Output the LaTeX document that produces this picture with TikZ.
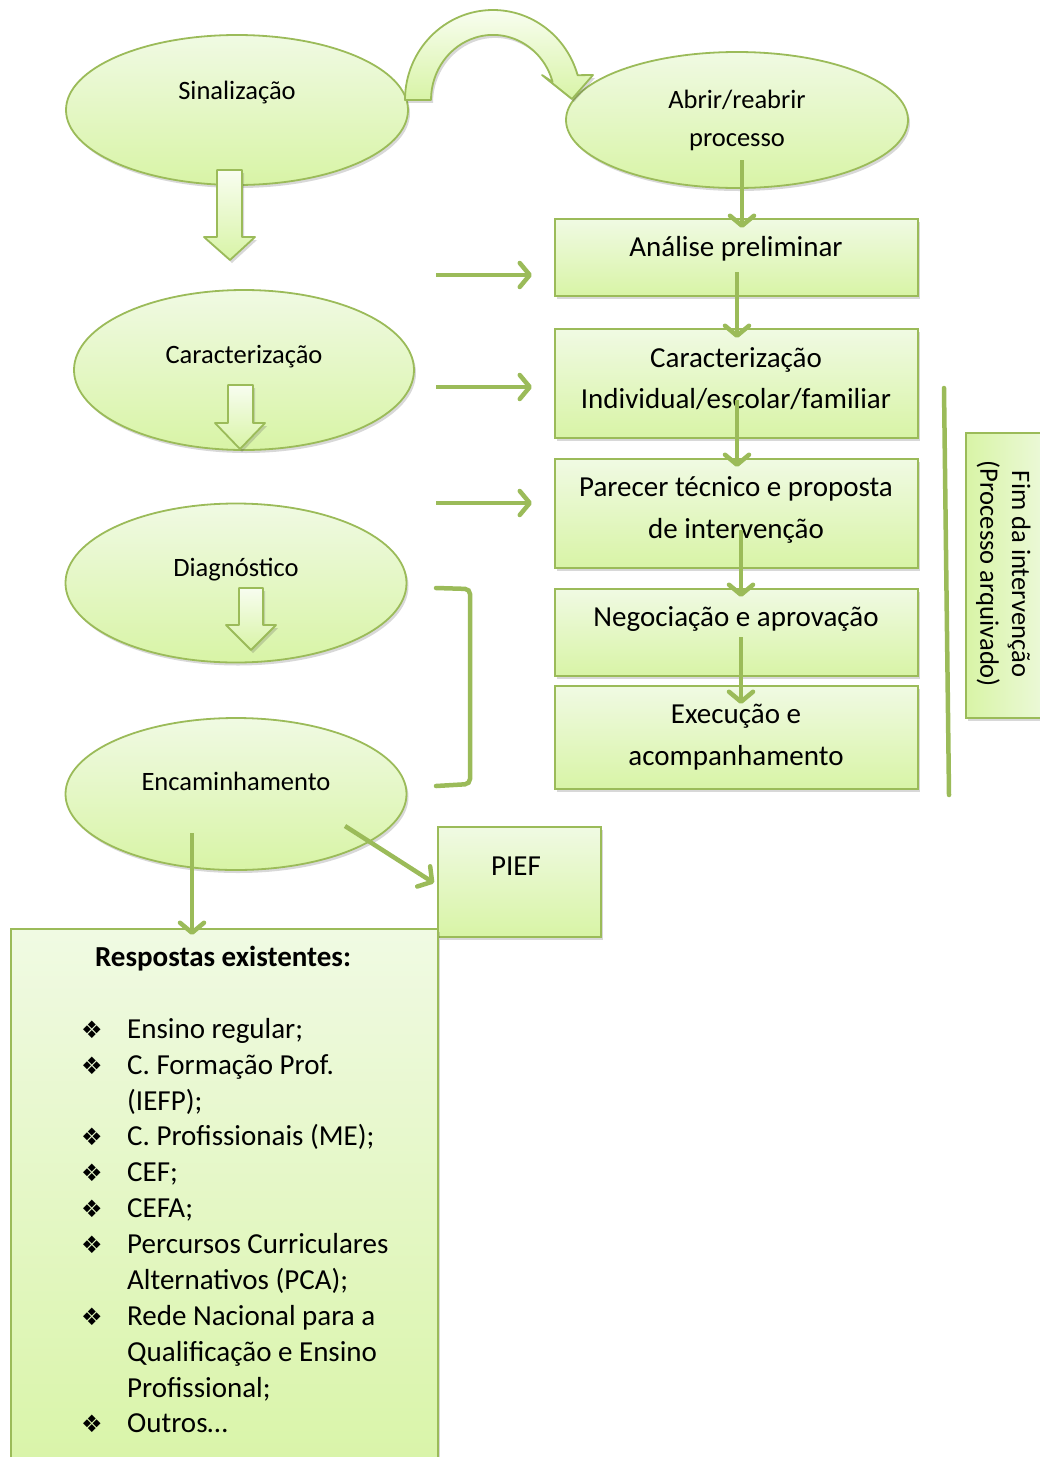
\documentclass[tikz,border=0pt]{standalone}
\usepackage{fontspec}
\setmainfont{Carlito}
\newfontfamily\symfont{DejaVu Sans}
\usetikzlibrary{shapes.geometric,arrows.meta,shadows}
\definecolor{gborder}{HTML}{9BBB59}
\definecolor{gtop}{HTML}{F0FAE3}
\definecolor{gbot}{HTML}{D8F4A6}
\definecolor{glite}{HTML}{F8FDF0}
\begin{document}
\begin{tikzpicture}[x=1pt,y=1pt,
  shad/.style={drop shadow={shadow xshift=2pt,shadow yshift=-3pt,opacity=0.22,fill=black!70}},
  oval/.style={ellipse, draw=gborder, line width=1.8pt, top color=gtop, bottom color=gbot, shad, inner sep=0pt},
  box/.style={rectangle, draw=gborder, line width=1.8pt, top color=gtop, bottom color=gbot, shad, inner sep=0pt, anchor=north west},
  sidebox/.style={rectangle, draw=gborder, line width=1.8pt, left color=gbot, right color=gtop, shad, inner sep=0pt, anchor=north west},
  blockarrow/.style={draw=gborder, line width=1.8pt, top color=glite, bottom color=gbot, shad, line join=round},
  conn/.style={draw=gborder, line width=4.5pt, -{Straight Barb[length=10pt,width=24pt,round]}},
  greenline/.style={draw=gborder, line width=4.5pt, line cap=round},
  boxtxt/.style={font=\fontsize{29}{41}\selectfont, align=center, anchor=base, inner sep=0pt},
  ovaltxt/.style={font=\fontsize{26.5}{38}\selectfont, align=center, anchor=base, inner sep=0pt},
  sidetxt/.style={font=\fontsize{26.6}{32}\selectfont, rotate=-90, anchor=center, inner sep=0pt},
  listtxt/.style={font=\fontsize{29}{36}\selectfont, anchor=base west, inner sep=0pt},
  bul/.style={font=\fontsize{24}{30}\symfont, anchor=base, inner sep=0pt}
]
\useasboundingbox (0,0) rectangle (1040,-1457);
\clip (0,0) rectangle (1040,-1457);

% ---------- ovals ----------
\node[oval, minimum width=342pt, minimum height=150pt] (sin) at (237,-110) {};
\node[oval, minimum width=342pt, minimum height=136pt] (abr) at (737,-120) {};
\node[oval, minimum width=340pt, minimum height=160pt] (car) at (244,-370) {};
\node[oval, minimum width=341pt, minimum height=159pt] (dia) at (236,-583) {};
\node[oval, minimum width=341pt, minimum height=152pt] (enc) at (236,-794) {};

\node[ovaltxt] (sinT) at (237,-99.5) {Sinalização};
\node[ovaltxt] (abrT) at (737,-146.5) {Abrir/reabrir\\processo};
\node[ovaltxt] (carT) at (244,-363.5) {Caracterização};
\node[ovaltxt] (diaT) at (236,-576.5) {Diagnóstico};
\node[ovaltxt] (encT) at (236,-790.5) {Encaminhamento};

% ---------- block arrows ----------
\path[blockarrow] (217,-170) -- (242,-170) -- (242,-237) -- (255,-237) -- (230,-260) -- (204,-237) -- (217,-237) -- cycle;
\path[blockarrow] (228,-385) -- (253,-385) -- (253,-423) -- (265,-423) -- (240,-449) -- (215,-423) -- (228,-423) -- cycle;
\path[blockarrow] (239,-588) -- (263,-588) -- (263,-625) -- (276,-625) -- (251,-650) -- (226,-625) -- (239,-625) -- cycle;
\path[blockarrow] (405,-100) arc[start angle=180, end angle=16, x radius=88, y radius=90]
  -- (593,-75) -- (572,-99) -- (542,-75) -- (552.6,-82)
  arc[start angle=16, end angle=180, x radius=62, y radius=65] -- cycle;

% ---------- boxes ----------
\node[box, minimum width=363pt, minimum height=77pt] (ana) at (554,-218) {};
\node[box, minimum width=363pt, minimum height=109pt] (cie) at (554,-328) {};
\node[box, minimum width=363pt, minimum height=109pt] (par) at (554,-458) {};
\node[box, minimum width=363pt, minimum height=87pt] (neg) at (554,-588) {};
\node[box, minimum width=363pt, minimum height=103pt] (exe) at (554,-685) {};
\node[box, minimum width=163pt, minimum height=110pt] (pief) at (437,-826) {};
\node[box, minimum width=427pt, minimum height=560pt] (resp) at (10,-928) {};
\node[sidebox, minimum width=95pt, minimum height=285pt] (fim) at (965,-432) {};

\node[boxtxt] (anaT) at (736,-256) {Análise preliminar};
\node[boxtxt] (cieT) at (736,-408) {Caracterização\\Individual/escolar/familiar};
\node[boxtxt, font=\fontsize{29}{42}\selectfont] (parT) at (736,-538) {Parecer técnico e proposta\\de intervenção};
\node[boxtxt] (negT) at (736,-626) {Negociação e aprovação};
\node[boxtxt, font=\fontsize{29}{42}\selectfont] (exeT) at (736,-765) {Execução e\\acompanhamento};
\node[boxtxt] (piefT) at (516,-875) {PIEF};

\node[sidetxt] (fimT1) at (1019,-574) {Fim da intervenção};
\node[sidetxt] (fimT2) at (988,-574) {(Processo arquivado)};

% ---------- list ----------
\node[boxtxt, font=\fontsize{29}{36}\bfseries] (respT) at (223,-966) {Respostas existentes:};
\node[bul] (b1) at (92,-1038) {❖};
\node[listtxt] (r1) at (127,-1038) {Ensino regular;};
\node[bul] (b2) at (92,-1074) {❖};
\node[listtxt] (r2a) at (127,-1074) {C. Formação Prof.};
\node[listtxt] (r2b) at (127,-1110) {(IEFP);};
\node[bul] (b3) at (92,-1145) {❖};
\node[listtxt] (r3) at (127,-1145) {C. Profissionais (ME);};
\node[bul] (b4) at (92,-1181) {❖};
\node[listtxt] (r4) at (127,-1181) {CEF;};
\node[bul] (b5) at (92,-1217) {❖};
\node[listtxt] (r5) at (127,-1217) {CEFA;};
\node[bul] (b6) at (92,-1253) {❖};
\node[listtxt] (r6a) at (127,-1253) {Percursos Curriculares};
\node[listtxt] (r6b) at (127,-1289) {Alternativos (PCA);};
\node[bul] (b7) at (92,-1325) {❖};
\node[listtxt] (r7a) at (127,-1325) {Rede Nacional para a};
\node[listtxt] (r7b) at (127,-1361) {Qualificação e Ensino};
\node[listtxt] (r7c) at (127,-1397) {Profissional;};
\node[bul] (b8) at (92,-1432) {❖};
\node[listtxt] (r8) at (127,-1432) {Outros…};

% ---------- connector end points ----------
\coordinate (v1s) at (742,-160);  \coordinate (v1e) at (742,-228);
\coordinate (v2s) at (737,-272);  \coordinate (v2e) at (737,-338);
\coordinate (v3s) at (737,-400);  \coordinate (v3e) at (737,-467);
\coordinate (v4s) at (741,-530);  \coordinate (v4e) at (741,-597);
\coordinate (v5s) at (741,-637);  \coordinate (v5e) at (741,-704);
\coordinate (h1s) at (436,-275);  \coordinate (h1e) at (532,-275);
\coordinate (h2s) at (436,-387);  \coordinate (h2e) at (532,-387);
\coordinate (h3s) at (436,-503);  \coordinate (h3e) at (532,-503);
\coordinate (d1s) at (345,-826);  \coordinate (d1e) at (434,-883);
\coordinate (d2s) at (192,-833);  \coordinate (d2e) at (192,-935);
\coordinate (br1) at (436,-588); \coordinate (br2) at (470,-589);
\coordinate (br3) at (470,-784); \coordinate (br4) at (436,-786);
\coordinate (vl1) at (944,-388); \coordinate (vl2) at (949,-795);

\draw[conn] (v1s) -- (v1e);
\draw[conn] (v2s) -- (v2e);
\draw[conn] (v3s) -- (v3e);
\draw[conn] (v4s) -- (v4e);
\draw[conn] (v5s) -- (v5e);
\draw[conn] (h1s) -- (h1e);
\draw[conn] (h2s) -- (h2e);
\draw[conn] (h3s) -- (h3e);
\draw[conn] (d1s) -- (d1e);
\draw[conn] (d2s) -- (d2e);
\draw[greenline, rounded corners=5pt] (br1) -- (br2) -- (br3) -- (br4);
\draw[greenline] (vl1) -- (vl2);
\end{tikzpicture}
\end{document}
